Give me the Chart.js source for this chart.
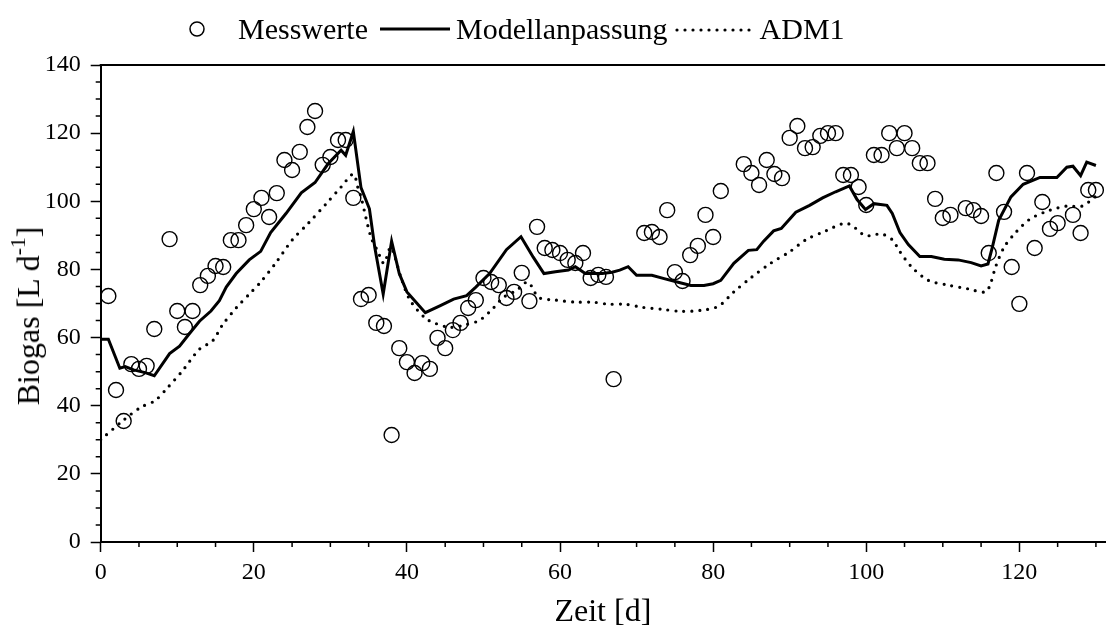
<!DOCTYPE html>
<html>
<head>
<meta charset="utf-8">
<script src="https://cdn.jsdelivr.net/npm/chart.js@4.4.0/dist/chart.umd.min.js"></script>
<style>
  html, body { margin: 0; padding: 0; background: #fff; }
  #wrap { position: relative; width: 1114px; height: 637px; }
  #legend {
    position: absolute; left: 186px; top: 12px;
    display: flex; align-items: center;
    font: 30px "Liberation Serif", "Times New Roman", serif; color: #000;
    white-space: nowrap;
  }
  #legend svg { display: block; }
  #ytitle {
    position: absolute; left: 28px; top: 316px;
    transform: translate(-50%, -50%) rotate(-90deg);
    font: 32px "Liberation Serif", "Times New Roman", serif; color: #000;
    white-space: nowrap; line-height: 1;
  }
  #ytitle sup { font-size: 0.68em; position: relative; top: -0.1em; line-height: 0; vertical-align: super; }
</style>
</head>
<body>
<div id="wrap">
  <canvas id="chart" width="1114" height="637"></canvas>
  <div id="legend">
    <svg width="22" height="22" style="margin-right:30px"><circle cx="11" cy="11" r="7" fill="none" stroke="#000" stroke-width="1.5"/></svg>
    <span>Messwerte</span>
    <svg width="70" height="10" style="margin:0 6px 0 12px"><line x1="0" y1="5" x2="70" y2="5" stroke="#000" stroke-width="3"/></svg>
    <span>Modellanpassung</span>
    <svg width="78" height="10" style="margin:0 8px 0 6px"><line x1="3" y1="6" x2="76" y2="6" stroke="#000" stroke-width="3.2" stroke-linecap="round" stroke-dasharray="0 8"/></svg>
    <span>ADM1</span>
  </div>
  <div id="ytitle">Biogas [L d<sup>-1</sup>]</div>
</div>
<script>
const messDays = [1, 2, 3, 4, 5, 6, 7, 9, 10, 11, 12, 13, 14, 15, 16, 17, 18, 19, 20, 21, 22, 23, 24, 25, 26, 27, 28, 29, 30, 31, 32, 33, 34, 35, 36, 37, 38, 39, 40, 41, 42, 43, 44, 45, 46, 47, 48, 49, 50, 51, 52, 53, 54, 55, 56, 57, 58, 59, 60, 61, 62, 63, 64, 65, 66, 67, 71, 72, 73, 74, 75, 76, 77, 78, 79, 80, 81, 84, 85, 86, 87, 88, 89, 90, 91, 92, 93, 94, 95, 96, 97, 98, 99, 100, 101, 102, 103, 104, 105, 106, 107, 108, 109, 110, 111, 113, 114, 115, 116, 117, 118, 119, 120, 121, 122, 123, 124, 125, 127, 128, 129, 130];
const messValues = [72.2, 44.6, 35.5, 52.2, 50.8, 51.7, 62.5, 88.9, 67.8, 63.1, 67.8, 75.4, 78.1, 81, 80.7, 88.6, 88.6, 93, 97.7, 101, 95.4, 102.4, 112.1, 109.2, 114.5, 121.8, 126.5, 110.7, 113, 118, 118, 101, 71.3, 72.5, 64.3, 63.4, 31.4, 56.9, 52.8, 49.6, 52.5, 50.8, 59.9, 56.9, 62.2, 64.3, 68.7, 71, 77.5, 76.3, 75.4, 71.6, 73.4, 79, 70.7, 92.5, 86.3, 85.7, 84.8, 82.8, 81.9, 84.8, 77.5, 78.4, 77.8, 47.8, 90.7, 91, 89.5, 97.4, 79.2, 76.6, 84.2, 86.9, 96, 89.5, 103, 110.9, 108.3, 104.8, 112.1, 108, 106.8, 118.6, 122.1, 115.6, 115.9, 119.2, 120, 120, 107.7, 107.7, 104.2, 98.9, 113.6, 113.6, 120, 115.6, 120, 115.6, 111.2, 111.2, 100.7, 95.1, 96, 98, 97.4, 95.7, 84.8, 108.3, 96.9, 80.7, 69.9, 108.3, 86.3, 99.8, 91.9, 93.6, 96, 90.7, 103.3, 103.3];

const modelDays = [0, 1, 2.5, 3.2, 4.3, 5.8, 7, 9, 10.3, 11.6, 12.9, 14.4, 15.5, 16.4, 17.7, 19.4, 20.9, 22.2, 24.2, 26.2, 28, 29.7, 31.4, 32, 33, 34, 35.1, 35.8, 36.9, 38, 39, 40, 42.4, 44.3, 46.1, 47.8, 49, 50.8, 53, 54.9, 56.5, 57.9, 59.4, 61.1, 62, 63.3, 65.5, 66.8, 67.8, 68.9, 70, 72, 73.6, 75.3, 77.1, 78.8, 80, 81, 82.7, 84.6, 85.7, 86.6, 87.9, 88.9, 90.8, 92.6, 94.3, 96, 97.8, 98.8, 99.9, 101, 102.7, 103.4, 104.4, 105.5, 107, 108.5, 110.2, 112, 113.7, 115, 115.9, 116.5, 117.3, 118.9, 120.5, 122.7, 124.9, 126.2, 127, 128, 128.8, 130];
const modelValues = [59.5, 59.5, 51, 51.5, 50.5, 49.7, 48.8, 55.3, 57.5, 61.2, 64.8, 67.8, 70.8, 74.8, 78.8, 82.8, 85.3, 90.8, 96.4, 102.5, 105.5, 111, 115, 113.5, 120.5, 104, 97.8, 86.5, 72.8, 88.3, 78.8, 73.4, 67.3, 69.3, 71.3, 72.3, 74.8, 78.8, 85.8, 89.6, 83.6, 78.8, 79.3, 79.8, 80.8, 78.8, 78.8, 79.2, 79.8, 80.8, 78.3, 78.3, 77.3, 76.3, 75.3, 75.3, 75.8, 76.8, 81.8, 85.6, 85.8, 88.3, 91.3, 92, 96.8, 98.8, 101, 102.8, 104.5, 100.5, 97.6, 99.3, 98.8, 96.4, 90.8, 87.3, 83.8, 83.8, 83, 82.8, 82, 81, 81.6, 86.8, 94.4, 101.3, 105, 107, 107, 110, 110.3, 107.5, 111.5, 110.5];

const admDays = [0, 3, 5.2, 7.1, 8.7, 10.7, 12.9, 14.6, 15.9, 17.7, 19.6, 20.9, 22.9, 25, 27.1, 29.5, 31.4, 33, 33.6, 34, 35.3, 36.2, 37, 37.9, 39.2, 40.4, 42.4, 43.7, 45.6, 47.5, 49.5, 51.3, 52.6, 54.3, 55.8, 57.2, 59.4, 62, 64.3, 66.3, 68.5, 70.7, 73.3, 75.8, 78.4, 80.7, 82.7, 84.9, 87.5, 90, 92.1, 94.7, 97.3, 98.6, 99.9, 102, 103.4, 104.4, 105.9, 108.1, 110.7, 113.3, 115.6, 116.3, 116.9, 118, 119.5, 121.4, 124, 126.2, 128.2, 130];
const admValues = [30, 35.8, 39.5, 41.5, 45.2, 50.3, 56.6, 59, 63.7, 68.7, 73.2, 76.3, 82, 88.6, 93.5, 99.4, 104.2, 108, 104, 101.3, 89.5, 85.3, 81.8, 86.5, 77.8, 71, 65.7, 64.2, 63, 63.7, 65.1, 68.7, 71.8, 73.8, 76.3, 71.8, 71, 70.4, 70.4, 69.8, 69.8, 68.9, 68.3, 67.7, 68, 69.2, 73.4, 77.5, 81.8, 85.2, 88.7, 91.3, 93.6, 92.1, 89.9, 90.4, 88.7, 85.2, 80.8, 76.8, 75.4, 74.3, 73.4, 76.3, 80.8, 86.5, 90.8, 94.8, 97.4, 98.6, 98.6, 101.5];

const xMax = 131.2;
const yMax = 140;

const toPoints = (xs, ys) => xs.map((x, i) => ({ x, y: ys[i] }));
const serif = '"Liberation Serif", "Times New Roman", serif';

// minor ticks (every 5) plus the top frame line
const framePlugin = {
  id: 'frame',
  afterDraw(chart) {
    const { ctx, chartArea, scales } = chart;
    ctx.save();
    ctx.strokeStyle = '#000';
    ctx.lineWidth = 1.5;
    ctx.beginPath();
    for (let v = 5; v <= 130; v += 5) {
      if (v % 20 === 0) continue;
      const px = scales.x.getPixelForValue(v);
      ctx.moveTo(px, chartArea.bottom);
      ctx.lineTo(px, chartArea.bottom + 5);
    }
    for (let v = 5; v <= yMax; v += 5) {
      if (v % 20 === 0) continue;
      const py = scales.y.getPixelForValue(v);
      ctx.moveTo(chartArea.left, py);
      ctx.lineTo(chartArea.left - 5, py);
    }
    ctx.stroke();
    ctx.lineWidth = 2;
    ctx.beginPath();
    ctx.moveTo(chartArea.left - 1, chartArea.top);
    ctx.lineTo(chartArea.right, chartArea.top);
    ctx.stroke();
    ctx.restore();
  },
};

const tickColor = (c) => (c.tick && c.tick.value % 20 === 0 ? '#000' : 'rgba(0,0,0,0)');

new Chart(document.getElementById('chart'), {
  type: 'scatter',
  data: {
    datasets: [
      {
        label: 'Messwerte',
        data: toPoints(messDays, messValues),
        pointRadius: 7.5,
        pointBorderWidth: 1.4,
        pointBorderColor: '#000',
        pointBackgroundColor: 'rgba(0,0,0,0)',
        showLine: false,
      },
      {
        label: 'Modellanpassung',
        data: toPoints(modelDays, modelValues),
        showLine: true,
        borderColor: '#000',
        borderWidth: 3,
        pointRadius: 0,
        tension: 0,
      },
      {
        label: 'ADM1',
        data: toPoints(admDays, admValues),
        showLine: true,
        borderColor: '#000',
        borderWidth: 3.2,
        borderDash: [0, 8],
        borderCapStyle: 'round',
        pointRadius: 0,
        tension: 0.3,
      },
    ],
  },
  options: {
    responsive: false,
    animation: false,
    layout: { padding: { top: 65, right: 0, left: 0, bottom: 0 } },
    plugins: { legend: { display: false }, tooltip: { enabled: false } },
    scales: {
      x: {
        type: 'linear',
        min: 0,
        max: xMax,
        afterFit: (scale) => { scale.height = 95; },
        border: { display: true, color: '#000', width: 2 },
        grid: { drawOnChartArea: false, tickLength: 10, tickWidth: 1.5, tickColor },
        ticks: {
          stepSize: 5,
          includeBounds: false,
          autoSkip: false,
          maxRotation: 0,
          padding: 6,
          color: '#000',
          font: { family: serif, size: 24 },
          callback: (v) => (v % 20 === 0 ? v : ''),
        },
        title: { display: true, text: 'Zeit [d]', color: '#000', font: { family: serif, size: 32 }, padding: { bottom: 5 } },
      },
      y: {
        min: 0,
        max: yMax,
        afterFit: (scale) => { scale.width = 100.7; },
        border: { display: true, color: '#000', width: 2 },
        grid: { drawOnChartArea: false, tickLength: 10, tickWidth: 1.5, tickColor },
        ticks: {
          stepSize: 5,
          autoSkip: false,
          padding: 10,
          color: '#000',
          font: { family: serif, size: 24 },
          callback: (v) => (v % 20 === 0 ? v : ''),
        },
      },
    },
  },
  plugins: [framePlugin],
});
</script>
</body>
</html>
